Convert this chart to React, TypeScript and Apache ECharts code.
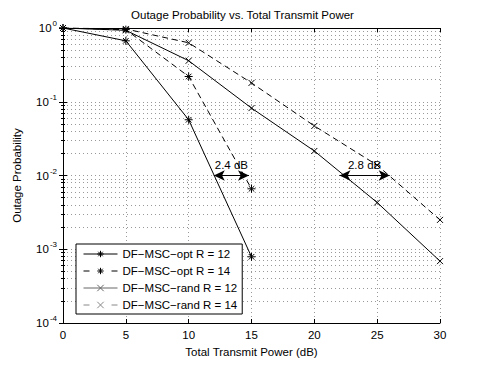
import React, { useEffect, useRef } from "react";
import * as echarts from "echarts";

const TITLE = "Outage Probability vs. Total Transmit Power";
const X_NAME = "Total Transmit Power (dB)";
const Y_NAME = "Outage Probability";

const SERIES_NAMES = [
  "DF\u2212MSC\u2212opt R = 12",
  "DF\u2212MSC\u2212opt R = 14",
  "DF\u2212MSC\u2212rand R = 12",
  "DF\u2212MSC\u2212rand R = 14",
];

const X_OPT = [0, 5, 10, 15];
const OPT_R12 = [1, 0.67, 0.057, 0.00079];
const OPT_R14 = [1, 0.95, 0.22, 0.0066];

const X_RAND = [0, 5, 10, 15, 20, 25, 30];
const RAND_R12 = [1, 0.93, 0.36, 0.082, 0.0215, 0.0043, 0.00069];
const RAND_R14 = [1, 0.97, 0.63, 0.18, 0.047, 0.0138, 0.0025];

const ANNOT_LABELS = ["2.4 dB", "2.8 dB"];
const ANNOT_X_START = [12, 22];
const ANNOT_X_END = [14.8, 26];
const ANNOT_Y = [0.01, 0.01];

const ASTERISK = "path://M5,0L5,10M0,5L10,5M1.5,1.5L8.5,8.5M8.5,1.5L1.5,8.5";
const CROSS = "path://M0,0L10,10M10,0L0,10";

const FONT = "Liberation Sans, Arial, Helvetica, sans-serif";

export default function App() {
  const ref = useRef<HTMLDivElement>(null);

  useEffect(() => {
    if (!ref.current) return;
    const chart = echarts.init(ref.current, undefined, { renderer: "svg" });

    const pairs = (xs: number[], ys: number[]) => xs.map((x, i) => [x, ys[i]]);

    const annotLine = (i: number) => ({
      silent: true,
      symbol: ["arrow", "arrow"],
      symbolSize: [8, 11],
      lineStyle: { color: "#000", type: "solid", width: 1 },
      itemStyle: { color: "#000" },
      label: {
        show: true,
        position: "insideMiddleTop",
        formatter: ANNOT_LABELS[i],
        color: "#000",
        fontFamily: FONT,
        fontSize: 11.5,
        distance: 5,
      },
      emphasis: { disabled: true },
      data: [
        [
          { coord: [ANNOT_X_START[i], ANNOT_Y[i]] },
          { coord: [ANNOT_X_END[i], ANNOT_Y[i]] },
        ],
      ],
    });

    const gridLine = { show: true, lineStyle: { color: "#999", type: [1, 3], width: 1 } };
    const axisLine = { show: true, lineStyle: { color: "#000", width: 1 } };

    const mkSeries = (name: string, data: number[][], dashed: boolean, symbol: string, size: number, markLine?: any) => ({
      name,
      type: "line",
      data,
      symbol,
      symbolSize: size,
      showSymbol: true,
      lineStyle: { color: "#000", width: 1, type: dashed ? [6, 4] : "solid" },
      itemStyle: { color: "#000", borderColor: "#000", borderWidth: 1 },
      emphasis: { disabled: true },
      markLine,
    });

    const yLabel = (v: number) => {
      const e = Math.round(Math.log10(v));
      return `{b|10}{s|${e}}`;
    };

    const legendItem = (i: number, dashed: boolean, color: string) => ({
      name: SERIES_NAMES[i],
      lineStyle: { color, width: 1, type: dashed ? [6, 22] : "solid" },
      itemStyle: { color, borderColor: color, borderWidth: 1 },
    });

    chart.setOption({
      animation: false,
      backgroundColor: "#fff",
      title: {
        text: TITLE,
        left: "center",
        top: 4,
        textStyle: { fontFamily: FONT, fontSize: 11.5, fontWeight: "normal", color: "#000" },
      },
      grid: { left: 63, right: 45, top: 28, bottom: 42, containLabel: false },
      legend: {
        orient: "vertical",
        left: 76,
        top: 244,
        selectedMode: false,
        backgroundColor: "#fff",
        borderColor: "#000",
        borderWidth: 1,
        borderRadius: 0,
        padding: [4, 5, 3, 7],
        itemWidth: 34,
        itemHeight: 8,
        itemGap: 5,
        lineStyle: { width: 1 },
        itemStyle: { borderWidth: 1 },
        textStyle: { fontFamily: FONT, fontSize: 11.5, color: "#000", lineHeight: 12 },
        data: [
          legendItem(0, false, "#000"),
          legendItem(1, true, "#000"),
          legendItem(2, false, "#666"),
          legendItem(3, true, "#888"),
        ],
      },
      xAxis: [
        {
          type: "value",
          min: 0,
          max: 30,
          interval: 5,
          name: X_NAME,
          nameLocation: "middle",
          nameGap: 23,
          nameTextStyle: { fontFamily: FONT, fontSize: 11.5, color: "#000" },
          axisLine,
          axisTick: { show: true, inside: true, length: 4, lineStyle: { color: "#000" } },
          axisLabel: { fontFamily: FONT, fontSize: 11.5, color: "#000", margin: 6 },
          splitLine: gridLine,
        },
        {
          type: "value",
          position: "top",
          min: 0,
          max: 30,
          interval: 5,
          axisLine,
          axisTick: { show: true, inside: true, length: 4, lineStyle: { color: "#000" } },
          axisLabel: { show: false },
          splitLine: { show: false },
        },
      ],
      yAxis: [
        {
          type: "log",
          logBase: 10,
          min: 1e-4,
          max: 1,
          name: Y_NAME,
          nameLocation: "middle",
          nameGap: 40,
          nameTextStyle: { fontFamily: FONT, fontSize: 11.5, color: "#000" },
          axisLine,
          axisTick: { show: true, inside: true, length: 4, lineStyle: { color: "#000" } },
          minorTick: { show: true, splitNumber: 9, length: 2, lineStyle: { color: "#000" } },
          minorSplitLine: gridLine,
          splitLine: gridLine,
          axisLabel: {
            formatter: yLabel,
            margin: 6,
            rich: {
              b: { fontFamily: FONT, fontSize: 11.5, color: "#000" },
              s: { fontFamily: FONT, fontSize: 8, color: "#000", padding: [0, 0, 9, 1] },
            },
          },
        },
        {
          type: "log",
          logBase: 10,
          min: 1e-4,
          max: 1,
          position: "right",
          axisLine,
          axisTick: { show: true, inside: true, length: 4, lineStyle: { color: "#000" } },
          minorTick: { show: true, splitNumber: 9, length: 2, lineStyle: { color: "#000" } },
          axisLabel: { show: false },
          splitLine: { show: false },
        },
      ],
      series: [
        mkSeries(SERIES_NAMES[0], pairs(X_OPT, OPT_R12), false, ASTERISK, 8, annotLine(0)),
        mkSeries(SERIES_NAMES[1], pairs(X_OPT, OPT_R14), true, ASTERISK, 8),
        mkSeries(SERIES_NAMES[2], pairs(X_RAND, RAND_R12), false, CROSS, 6, annotLine(1)),
        mkSeries(SERIES_NAMES[3], pairs(X_RAND, RAND_R14), true, CROSS, 6),
      ],
    });

    return () => chart.dispose();
  }, []);

  return (
    <div
      ref={ref}
      style={{ position: "fixed", left: 0, top: 0, width: 485, height: 365, background: "#fff" }}
    />
  );
}
